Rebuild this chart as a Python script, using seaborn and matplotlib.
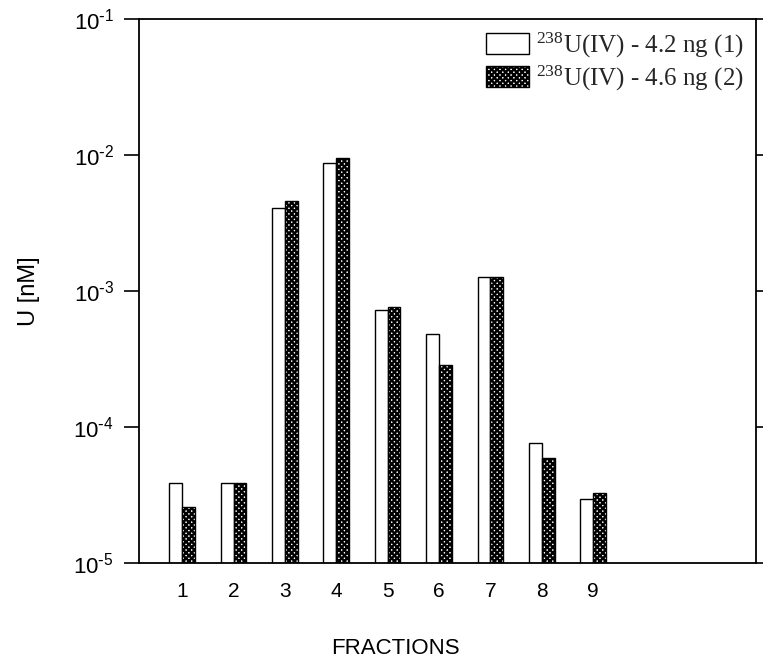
import numpy as np
import pandas as pd
import matplotlib
matplotlib.use('Agg')
import matplotlib.pyplot as plt
import seaborn as sns

# values (nM), one per fraction
fractions = ['1', '2', '3', '4', '5', '6', '7', '8', '9']
u_42ng = [3.9e-5, 3.9e-5, 4.1e-3, 8.7e-3, 7.2e-4, 4.8e-4, 1.27e-3, 7.6e-5, 2.95e-5]
u_46ng = [2.6e-5, 3.9e-5, 4.6e-3, 9.5e-3, 7.6e-4, 2.85e-4, 1.27e-3, 5.9e-5, 3.25e-5]
series_labels = [r'$\mathregular{^{238}}$U(IV) - 4.2 ng (1)',
                 r'$\mathregular{^{238}}$U(IV) - 4.6 ng (2)']
ytick_vals = [1e-5, 1e-4, 1e-3, 1e-2, 1e-1]
ytick_labels = [r'$\mathregular{10^{\text{-}5}}$', r'$\mathregular{10^{\text{-}4}}$',
                r'$\mathregular{10^{\text{-}3}}$', r'$\mathregular{10^{\text{-}2}}$',
                r'$\mathregular{10^{\text{-}1}}$']

df = pd.DataFrame({
    'fraction': fractions * 2,
    'value': u_42ng + u_46ng,
    'series': [series_labels[0]] * len(fractions) + [series_labels[1]] * len(fractions),
})

sns.set_theme(style='white')
plt.rcParams['font.family'] = ['Liberation Sans', 'DejaVu Sans']
plt.rcParams['mathtext.default'] = 'regular'
plt.rcParams['hatch.linewidth'] = 1.7
plt.rcParams['hatch.color'] = 'black'

fig = plt.figure(figsize=(7.63, 6.6), dpi=100)
ax = fig.add_axes([0.1822, 0.1470, 0.8086, 0.8242])
ax.set_yscale('log')

sns.barplot(data=df, x='fraction', y='value', hue='series', order=fractions,
            hue_order=series_labels, palette=['white', 'white'], edgecolor='black',
            linewidth=1.0, width=0.5, saturation=1, legend=False, ax=ax)

# second series gets the dark stipple fill
for bar in ax.containers[1]:
    bar.set_hatch('xxxxxx')

ax.set_ylim(1e-5, 1e-1)
ax.set_xlim(-0.84, 11.17)
ax.set_yticks(ytick_vals, labels=ytick_labels)
ax.minorticks_off()
ax.tick_params(axis='y', which='major', direction='out', length=11, width=1.2,
               labelsize=16, colors='black', left=True, right=True, pad=7)
ax.tick_params(axis='x', length=0, labelsize=15, colors='black', pad=14)

for sp in ax.spines.values():
    sp.set_visible(True)
    sp.set_color('black')
    sp.set_linewidth(1.3)

ax.set_xlabel('FRACTIONS', fontsize=16, color='black')
ax.xaxis.set_label_coords(0.415, -0.137)
ax.xaxis.label.set_va('top')
ax.set_ylabel('U [nM]', fontsize=17, color='black')
ax.yaxis.set_label_coords(-0.16, 0.5)

ax.legend(ax.containers, series_labels, loc='upper right', bbox_to_anchor=(1.0, 1.0),
          frameon=False, prop={'family': 'Liberation Serif', 'size': 18},
          handlelength=1.7, handleheight=0.92, handletextpad=0.3,
          labelspacing=0.15, borderpad=0.35, borderaxespad=0.12)

fig.savefig('out.png', dpi=100)
